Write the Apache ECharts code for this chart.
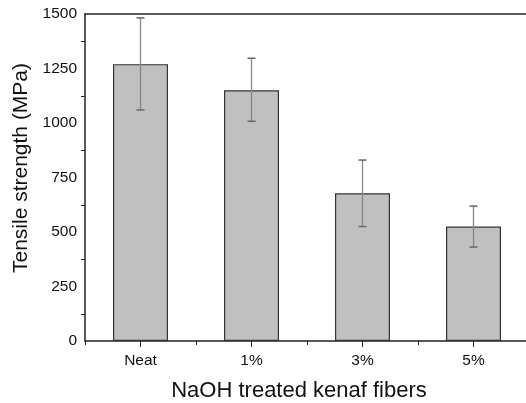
<!DOCTYPE html>
<html><head><meta charset="utf-8">
<script src="https://cdn.jsdelivr.net/npm/echarts@6/dist/echarts.min.js"></script>
<style>html,body{margin:0;padding:0;background:#fff}#c{width:526px;height:403px}</style>
</head><body><div id="c"></div>
<script>
const categories = ['Neat', '1%', '3%', '5%'];
const strength = [1270, 1150, 678, 525];
const errLow = [1060, 1008, 525, 431];
const errHigh = [1482, 1297, 830, 619];
const yTicks = [0, 250, 500, 750, 1000, 1250, 1500];
const xTitle = 'NaOH treated kenaf fibers';
const yTitle = 'Tensile strength (MPa)';

const chart = echarts.init(document.getElementById('c'), null, {renderer: 'canvas'});
const font = 'Liberation Sans, Arial, sans-serif';
const errData = categories.map((c, i) => [i, errLow[i], errHigh[i]]);
chart.setOption({
  animation: false,
  grid: {left: 85, top: 14, width: 444, height: 327, containLabel: false, outerBoundsMode: 'none'},
  graphic: [
    {type: 'text', x: 299, y: 391, style: {text: xTitle, font: '22px ' + font, fill: '#111', align: 'center', verticalAlign: 'middle'}},
    {type: 'text', x: 21, y: 168, rotation: Math.PI / 2, style: {text: yTitle, font: '21px ' + font, fill: '#111', align: 'center', verticalAlign: 'middle'}}
  ],
  xAxis: [{
    type: 'category', data: categories,
    axisLine: {lineStyle: {color: '#222', width: 1.5}},
    axisTick: {show: true, alignWithLabel: true, length: 6, lineStyle: {color: '#222'}},
    axisLabel: {fontFamily: font, fontSize: 15.5, color: '#111', margin: 12}
  }, {
    type: 'category', data: categories, position: 'bottom',
    axisLine: {show: false},
    axisTick: {show: true, length: 4, lineStyle: {color: '#222'}},
    axisLabel: {show: false}
  }, {
    type: 'category', data: categories, position: 'top',
    axisLine: {show: true, lineStyle: {color: '#222', width: 1.5}},
    axisTick: {show: false}, axisLabel: {show: false}
  }],
  yAxis: {
    type: 'value', min: 0, max: 1500, interval: 250,
    axisLine: {show: true, lineStyle: {color: '#222', width: 1.5}},
    axisTick: {show: false},
    minorTick: {show: true, splitNumber: 2, length: 4, lineStyle: {color: '#222'}},
    splitLine: {show: false},
    axisLabel: {fontFamily: font, fontSize: 15.5, color: '#111', margin: 8,
      formatter: v => yTicks.includes(v) ? String(v) : ''}
  },
  series: [{
    type: 'bar', data: strength, barWidth: 55,
    itemStyle: {color: '#c0c0c0', borderColor: '#333', borderWidth: 1.2}
  }, {
    type: 'custom', data: errData, z: 10,
    renderItem: (params, api) => {
      const x = api.value(0);
      const lo = api.coord([x, api.value(1)]);
      const hi = api.coord([x, api.value(2)]);
      const hw = 4;
      return {type: 'group', children: [
        {type: 'line', shape: {x1: lo[0], y1: lo[1], x2: hi[0], y2: hi[1]}, style: {stroke: '#888', lineWidth: 1.3}},
        {type: 'line', shape: {x1: lo[0]-hw, y1: lo[1], x2: lo[0]+hw, y2: lo[1]}, style: {stroke: '#666', lineWidth: 1.5}},
        {type: 'line', shape: {x1: hi[0]-hw, y1: hi[1], x2: hi[0]+hw, y2: hi[1]}, style: {stroke: '#666', lineWidth: 1.5}}
      ]};
    }
  }]
});
</script></body></html>
